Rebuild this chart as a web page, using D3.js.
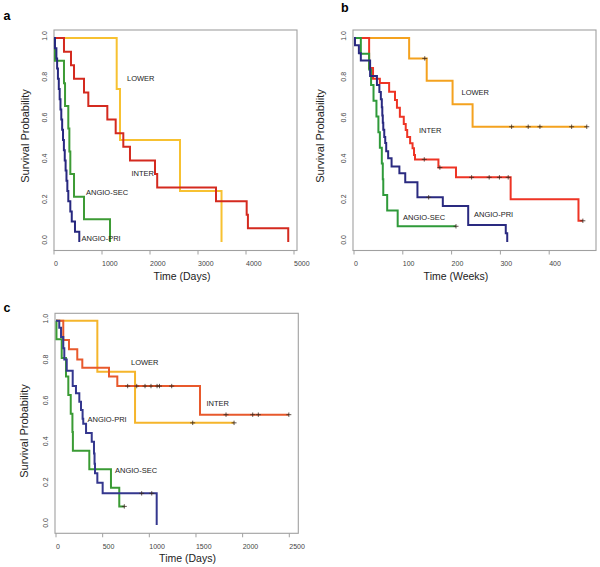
<!DOCTYPE html>
<html><head><meta charset="utf-8">
<script src="https://cdn.jsdelivr.net/npm/d3@7"></script>
<style>body{margin:0;background:#fff}svg{display:block}</style>
</head><body>
<svg id="chart" width="600" height="567"></svg>
<script>
// ---------- Panel a (days) ----------
const aXTicks = [0, 1000, 2000, 3000, 4000, 5000];
const aLowerT = [1306, 1375, 2625, 3490];
const aLowerS = [0.75, 0.5, 0.25, 0];
const aInterT = [208, 354, 417, 625, 715, 1111, 1285, 1444, 1583, 2104, 2150, 3375, 4014, 4040, 4880];
const aInterS = [0.933, 0.867, 0.8, 0.733, 0.667, 0.6, 0.533, 0.467, 0.4, 0.333, 0.267, 0.2, 0.133, 0.067, 0];
const aSecT = [20, 208, 230, 298, 320, 340, 417, 625, 1167];
const aSecS = [0.889, 0.778, 0.667, 0.556, 0.444, 0.333, 0.222, 0.111, 0];
const aPriT = [20, 50, 65, 82, 100, 118, 135, 152, 170, 188, 206, 224, 242, 260, 278, 298, 340, 370, 437, 527];
const aPriS = [0.95, 0.9, 0.85, 0.8, 0.75, 0.7, 0.65, 0.6, 0.55, 0.5, 0.45, 0.4, 0.35, 0.3, 0.25, 0.2, 0.15, 0.1, 0.05, 0];

// ---------- Panel b (weeks) ----------
const bXTicks = [0, 100, 200, 300, 400];
const bLowerT = [113, 149, 202, 243];
const bLowerS = [0.9, 0.79, 0.675, 0.565];
const bLowerCens = [145, 323, 357, 381, 446, 477];
const bInterT = [31, 39, 53, 72, 84, 88, 94, 102, 106, 109, 115, 120, 123, 125, 173, 209, 321, 460];
const bInterS = [0.853, 0.8, 0.78, 0.737, 0.696, 0.658, 0.614, 0.578, 0.549, 0.515, 0.484, 0.46, 0.426, 0.405, 0.365, 0.317, 0.209, 0.104];
const bInterCens = [144, 176, 241, 277, 298, 316, 469];
const bSecT = [14, 31, 35, 40, 46, 50, 53, 57, 59, 60, 68, 89.5];
const bSecS = [0.923, 0.846, 0.769, 0.692, 0.615, 0.538, 0.462, 0.385, 0.308, 0.231, 0.154, 0.077];
const bSecCens = [209];
const bPriT = [2, 10, 14, 33, 47, 52, 55, 57, 58, 59, 60, 62, 64, 66, 70, 77, 93, 105, 130, 182, 234, 311, 314];
const bPriS = [0.965, 0.925, 0.89, 0.814, 0.77, 0.735, 0.7, 0.66, 0.62, 0.585, 0.55, 0.515, 0.485, 0.445, 0.41, 0.37, 0.337, 0.293, 0.219, 0.176, 0.083, 0.043, 0];
const bPriCens = [153];

// ---------- Panel c (days) ----------
const cXTicks = [0, 500, 1000, 1500, 2000, 2500];
const cLowerT = [443, 847];
const cLowerS = [0.75, 0.5];
const cLowerCens = [1465, 1908];
const cInterT = [78, 139, 228, 282, 568, 657, 1543];
const cInterS = [0.905, 0.86, 0.81, 0.77, 0.727, 0.68, 0.54];
const cInterCens = [768, 865, 954, 1018, 1083, 1109, 1240, 1822, 2108, 2168, 2495];
const cSecT = [5, 61, 107, 132, 158, 176, 181, 357, 589, 678];
const cSecS = [0.909, 0.818, 0.727, 0.636, 0.545, 0.455, 0.364, 0.273, 0.182, 0.091];
const cSecCens = [732];
const cPriT = [35, 54, 78, 89, 115, 179, 214, 250, 268, 285, 292, 322, 383, 407, 413, 418, 443, 500, 1079];
const cPriS = [0.965, 0.92, 0.865, 0.81, 0.755, 0.68, 0.645, 0.603, 0.563, 0.52, 0.495, 0.45, 0.408, 0.35, 0.3, 0.253, 0.207, 0.155, 0];
const cPriCens = [918, 1026];

const yTicks = [0, 0.2, 0.4, 0.6, 0.8, 1.0];

const FONT = "'Liberation Sans', Arial, sans-serif";
const svg = d3.select("#chart");

function stepAt(T, S, t) {
  let s = 1;
  for (let i = 0; i < T.length; i++) { if (T[i] <= t) s = S[i]; }
  return s;
}

function panel(cfg) {
  const g = svg.append("g");
  const x = d3.scaleLinear().domain(cfg.xDomain).range(cfg.xRange);
  const y = d3.scaleLinear().domain([0, 1]).range(cfg.yRange);
  const [bx0, by0, bx1, by1] = cfg.box;
  // frame
  g.append("rect").attr("x", bx0).attr("y", by0).attr("width", bx1 - bx0).attr("height", by1 - by0)
    .attr("fill", "none").attr("stroke", "#a0a0a0").attr("stroke-width", 1.1);
  // x ticks
  cfg.xTicks.forEach(t => {
    const px = x(t);
    g.append("line").attr("x1", px).attr("x2", px).attr("y1", by1).attr("y2", by1 + 4)
      .attr("stroke", "#a0a0a0").attr("stroke-width", 1);
    g.append("text").attr("x", px).attr("y", by1 + 15.5).attr("text-anchor", "start")
      .attr("font-family", FONT).attr("font-size", 7).attr("fill", "#444").text(t);
  });
  // y labels (no tick marks in the reference)
  yTicks.forEach(v => {
    const py = y(v);
    g.append("text").attr("transform", `translate(${bx0 - 7},${py - 2}) rotate(-90)`)
      .attr("text-anchor", "middle").attr("font-family", FONT).attr("font-size", 7).attr("fill", "#444")
      .text(v.toFixed(1));
  });
  // titles
  g.append("text").attr("transform", `translate(${cfg.yTitle[0]},${cfg.yTitle[1]}) rotate(-90)`)
    .attr("text-anchor", "middle").attr("font-family", FONT).attr("font-size", 11).attr("fill", "#222")
    .text("Survival Probability");
  g.append("text").attr("x", cfg.xTitle[0]).attr("y", cfg.xTitle[1]).attr("text-anchor", "middle")
    .attr("font-family", FONT).attr("font-size", 10.5).attr("fill", "#222").text(cfg.xTitleText);
  g.append("text").attr("x", cfg.letter[0]).attr("y", cfg.letter[1]).attr("font-family", FONT)
    .attr("font-weight", "bold").attr("font-size", 12.5).attr("fill", "#000").text(cfg.letterText);

  const line = d3.line().x(d => x(d[0])).y(d => y(d[1])).curve(d3.curveStepAfter);
  cfg.series.forEach(s => {
    const pts = [[0, 1]].concat(s.T.map((t, i) => [t, s.S[i]]));
    const cens = s.C || [];
    const end = cens.length ? Math.max(cens[cens.length - 1], s.T[s.T.length - 1]) : s.T[s.T.length - 1];
    pts.push([end, s.S[s.S.length - 1]]);
    g.append("path").attr("d", line(pts)).attr("fill", "none").attr("stroke", s.color)
      .attr("stroke-width", 2).attr("stroke-linejoin", "miter");
    cens.forEach(c => {
      const px = x(c), py = y(stepAt(s.T, s.S, c));
      g.append("path").attr("d", `M${px - 2.5},${py}H${px + 2.5}M${px},${py - 2.2}V${py + 2.2}`)
        .attr("stroke", "#3a2a20").attr("stroke-width", 0.8);
    });
  });
  cfg.labels.forEach(l => {
    g.append("text").attr("x", l[1]).attr("y", l[2]).attr("font-family", FONT).attr("font-size", 7.5)
      .attr("fill", "#222").text(l[0]);
  });
}

panel({
  xDomain: [0, 5000], xRange: [54, 294], yRange: [242, 38], box: [54, 30, 297, 250.5],
  xTicks: aXTicks, yTitle: [29, 136], xTitle: [182, 279.5], xTitleText: "Time (Days)",
  letter: [3.5, 19.5], letterText: "a",
  series: [
    { T: aLowerT, S: aLowerS, color: "#f7c131" },
    { T: aInterT, S: aInterS, color: "#d42a1f" },
    { T: aSecT, S: aSecS, color: "#3d9b35" },
    { T: aPriT, S: aPriS, color: "#27287f" }
  ],
  labels: [["LOWER", 127, 80.5], ["INTER", 131.5, 175.5], ["ANGIO-SEC", 86, 194.5], ["ANGIO-PRI", 81.5, 241]]
});

panel({
  xDomain: [0, 400], xRange: [354, 549.2], yRange: [242, 38], box: [353, 30, 596, 250.5],
  xTicks: bXTicks, yTitle: [323.5, 136], xTitle: [456, 279.5], xTitleText: "Time (Weeks)",
  letter: [341, 11.8], letterText: "b",
  series: [
    { T: bLowerT, S: bLowerS, C: bLowerCens, color: "#f4a21f" },
    { T: bInterT, S: bInterS, C: bInterCens, color: "#ee3425" },
    { T: bSecT, S: bSecS, C: bSecCens, color: "#2f9a3a" },
    { T: bPriT, S: bPriS, C: bPriCens, color: "#2a2a80" }
  ],
  labels: [["LOWER", 461.5, 94.5], ["INTER", 419, 133], ["ANGIO-SEC", 403, 220], ["ANGIO-PRI", 474, 217]]
});

panel({
  xDomain: [0, 2500], xRange: [56, 289.3], yRange: [525, 320.7], box: [55, 313.3, 298.3, 533.3],
  xTicks: cXTicks, yTitle: [28, 431], xTitle: [187.5, 562], xTitleText: "Time (Days)",
  letter: [3.5, 312], letterText: "c",
  series: [
    { T: cLowerT, S: cLowerS, C: cLowerCens, color: "#f5b52b" },
    { T: cInterT, S: cInterS, C: cInterCens, color: "#e8592c" },
    { T: cSecT, S: cSecS, C: cSecCens, color: "#3a9b34" },
    { T: cPriT, S: cPriS, C: cPriCens, color: "#34378e" }
  ],
  labels: [["LOWER", 131, 365], ["INTER", 206.5, 405.5], ["ANGIO-PRI", 87.5, 422], ["ANGIO-SEC", 115, 472.5]]
});
</script>
</body></html>
